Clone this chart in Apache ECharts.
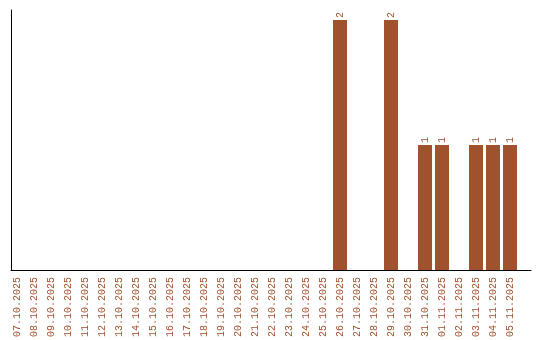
<!DOCTYPE html>
<html>
<head>
<meta charset="utf-8">
<script src="https://cdn.jsdelivr.net/npm/echarts@6/dist/echarts.min.js"></script>
<style>html,body{margin:0;padding:0;background:#fff}#c{width:540px;height:340px}</style>
</head>
<body>
<div id="c"></div>
<script>
const categories = ["07.10.2025","08.10.2025","09.10.2025","10.10.2025","11.10.2025","12.10.2025","13.10.2025","14.10.2025","15.10.2025","16.10.2025","17.10.2025","18.10.2025","19.10.2025","20.10.2025","21.10.2025","22.10.2025","23.10.2025","24.10.2025","25.10.2025","26.10.2025","27.10.2025","28.10.2025","29.10.2025","30.10.2025","31.10.2025","01.11.2025","02.11.2025","03.11.2025","04.11.2025","05.11.2025"];
const values = [0,0,0,0,0,0,0,0,0,0,0,0,0,0,0,0,0,0,0,2,0,0,2,0,1,1,0,1,1,1];

const color = '#a0522d';
const font = 'Liberation Mono';
const chart = echarts.init(document.getElementById('c'), null, {renderer: 'canvas'});
const idx = categories.map((_, i) => i);
chart.setOption({
  animation: false,
  backgroundColor: '#fff',
  grid: {left: 11, right: 9, top: 10, bottom: 70, containLabel: false},
  xAxis: {
    type: 'value',
    min: -6/17,
    max: 514/17,
    splitLine: {show: false},
    axisLine: {show: true, onZero: false, lineStyle: {color: '#000', width: 1}},
    axisTick: {show: false},
    axisLabel: {
      show: true,
      customValues: idx,
      rotate: 90,
      margin: 7,
      color: color,
      fontFamily: font,
      fontSize: 10,
      formatter: v => categories[Math.round(v)] || ''
    }
  },
  yAxis: {
    type: 'value',
    min: 0,
    max: 2.08,
    splitLine: {show: false},
    axisLine: {show: true, onZero: false, lineStyle: {color: '#000', width: 1}},
    axisTick: {show: false},
    axisLabel: {show: false}
  },
  series: [{
    type: 'bar',
    data: values.map((v, i) => [i, v]),
    barWidth: 14,
    itemStyle: {color: color},
    label: {
      show: true,
      position: 'top',
      rotate: 90,
      align: 'left',
      verticalAlign: 'middle',
      distance: 2,
      color: color,
      fontFamily: font,
      fontSize: 10,
      formatter: p => p.value[1] ? String(p.value[1]) : ''
    }
  }]
});
</script>
</body>
</html>
